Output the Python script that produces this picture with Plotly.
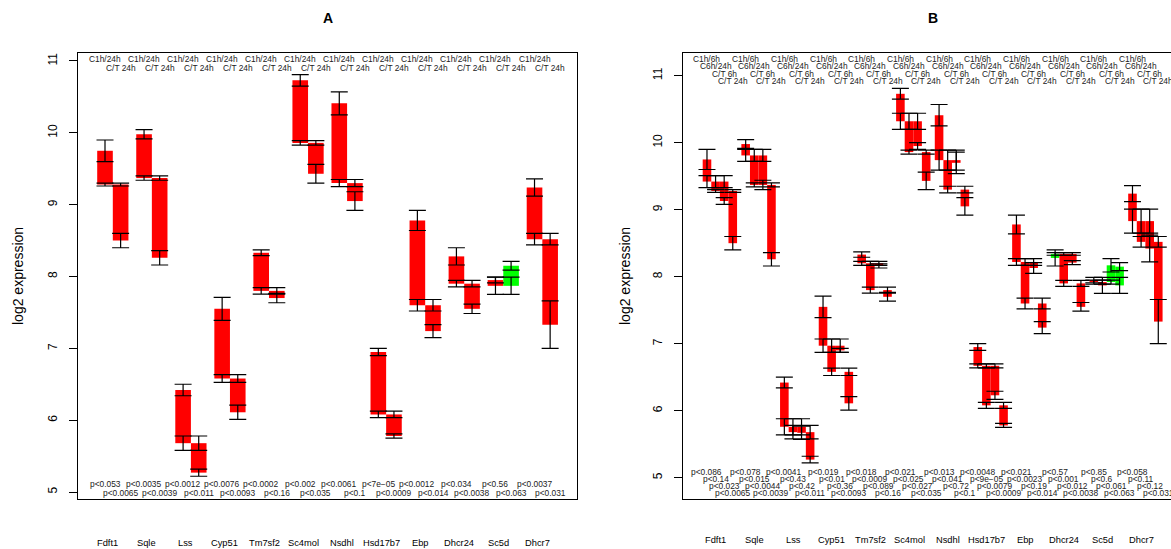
import plotly.graph_objects as go

# ---------------- data ----------------
genes = ["Fdft1", "Sqle", "Lss", "Cyp51", "Tm7sf2", "Sc4mol", "Nsdhl",
         "Hsd17b7", "Ebp", "Dhcr24", "Sc5d", "Dhcr7"]

# mean log2 expression and standard errors per condition
c1h     = [9.75, 9.98, 6.42, 7.55, 8.33, 10.73, 10.41, 6.95, 8.78, 8.28, 7.95, 9.24]
c1h_se  = [0.15, 0.065, 0.08, 0.16, 0.04, 0.08, 0.16, 0.05, 0.14, 0.12, 0.04, 0.12]
c6h     = [9.42, 9.81, 5.76, 6.97, 8.20, 10.32, 9.74, 6.67, 8.22, 8.34, 7.92, 8.83]
c6h_se  = [0.09, 0.09, 0.12, 0.10, 0.03, 0.12, 0.15, 0.03, 0.05, 0.02, 0.03, 0.18]
c24h    = [9.28, 9.37, 5.68, 6.58, 7.80, 9.86, 9.30, 6.08, 7.60, 7.90, 7.87, 8.52]
c24h_se = [0.02, 0.03, 0.10, 0.055, 0.045, 0.03, 0.05, 0.045, 0.08, 0.045, 0.12, 0.08]
t6h     = [9.13, 9.37, 5.67, 6.90, 8.16, 9.95, 9.70, 6.23, 8.13, 8.21, 8.17, 8.42]
t6h_se  = [0.05, 0.07, 0.10, 0.03, 0.03, 0.05, 0.16, 0.06, 0.08, 0.03, 0.10, 0.20]
t24h    = [8.50, 8.26, 5.27, 6.11, 7.70, 9.43, 9.05, 5.78, 7.24, 7.55, 8.15, 7.33]
t24h_se = [0.10, 0.10, 0.05, 0.10, 0.065, 0.13, 0.13, 0.03, 0.09, 0.065, 0.06, 0.33]

# p-values panel A
pA_c1h_24h = ["p<0.053", "p<0.0035", "p<0.0012", "p<0.0076", "p<0.0002", "p<0.002",
              "p<0.0061", "p<7e\u221205", "p<0.0012", "p<0.034", "p<0.56", "p<0.0037"]
pA_ct_24h = ["p<0.0065", "p<0.0039", "p<0.011", "p<0.0093", "p<0.16", "p<0.035",
             "p<0.1", "p<0.0009", "p<0.014", "p<0.0038", "p<0.063", "p<0.031"]
# p-values panel B
pB_c1h_6h = ["p<0.086", "p<0.078", "p<0.0041", "p<0.019", "p<0.018", "p<0.021",
             "p<0.013", "p<0.0048", "p<0.021", "p<0.57", "p<0.85", "p<0.058"]
pB_c6h_24h = ["p<0.14", "p<0.015", "p<0.43", "p<0.01", "p<0.0009", "p<0.025",
              "p<0.041", "p<9e\u221205", "p<0.0023", "p<0.001", "p<0.6", "p<0.11"]
pB_ct_6h = ["p<0.023", "p<0.0044", "p<0.42", "p<0.36", "p<0.089", "p<0.027",
            "p<0.72", "p<0.0079", "p<0.19", "p<0.012", "p<0.061", "p<0.12"]
pB_ct_24h = pA_ct_24h

labelsA = ["C1h/24h", "C/T 24h"]
labelsB = ["C1h/6h", "C6h/24h", "C/T 6h", "C/T 24h"]

# ---------------- geometry helpers ----------------
W, H = 1171, 549
FONT = "Liberation Sans, Arial, Helvetica, sans-serif"
RED, GREEN = "#FF0000", "#00FF00"


def py(p):
    return 1 - p / H


def px(p):
    return p / W


fig = go.Figure()


def add_panel(pairs, group, xa, ya):
    """pairs: list over bars-in-group of (start, start_se, end, end_se) lists."""
    bx, bbase, bh, bcol = [], [], [], []
    ex, ey, ee = [], [], []
    for i in range(len(genes)):
        for j, (s, sse, e, ese) in enumerate(pairs):
            xc = group * i + j + 0.5
            bx.append(xc)
            bbase.append(s[i])
            bh.append(e[i] - s[i])
            bcol.append(GREEN if e[i] > s[i] else RED)
            ex += [xc, xc]
            ey += [s[i], e[i]]
            ee += [sse[i], ese[i]]
    fig.add_trace(go.Bar(x=bx, y=bh, base=bbase, width=1.0,
                         marker=dict(color=bcol, line=dict(width=0)),
                         xaxis=xa, yaxis=ya, showlegend=False, hoverinfo="skip"))
    fig.add_trace(go.Scatter(x=ex, y=ey, mode="markers",
                             marker=dict(size=1, color="rgba(0,0,0,0)"),
                             error_y=dict(type="data", array=ee, visible=True,
                                          color="black", thickness=1.2, width=8.5),
                             xaxis=xa, yaxis=ya, showlegend=False, hoverinfo="skip"))


pairsA = [(c1h, c1h_se, c24h, c24h_se), (c24h, c24h_se, t24h, t24h_se)]
pairsB = [(c1h, c1h_se, c6h, c6h_se), (c6h, c6h_se, c24h, c24h_se),
          (c6h, c6h_se, t6h, t6h_se), (c24h, c24h_se, t24h, t24h_se)]
add_panel(pairsA, 2.5, "x", "y")
add_panel(pairsB, 4.5, "x2", "y2")

ann = []
small = dict(family=FONT, size=8.4, color="#222222")


def text(x, xref, ypix, s, font, **kw):
    d = dict(x=x, xref=xref, y=py(ypix), yref="paper", text=s, showarrow=False,
             font=font, xanchor="center", yanchor="middle")
    d.update(kw)
    ann.append(d)


# panel A texts
topA = [59, 68]
botA = [484, 493]
pA = [pA_c1h_24h, pA_ct_24h]
for i in range(len(genes)):
    for j in range(2):
        xc = 2.5 * i + j + 0.5
        text(xc, "x", topA[j], labelsA[j], small)
        text(xc, "x", botA[j], pA[j][i], small)
    text(2.5 * i + 1 - 0.32, "x", 543, genes[i], dict(family=FONT, size=9.3, color="black"))
# panel B texts
topB = [59, 66.5, 74, 81]
botB = [472, 479, 486, 493]
pB = [pB_c1h_6h, pB_c6h_24h, pB_ct_6h, pB_ct_24h]
for i in range(len(genes)):
    for j in range(4):
        xc = 4.5 * i + j + 0.5
        text(xc, "x2", topB[j], labelsB[j], small)
        text(xc, "x2", botB[j], pB[j][i], small)
    text(4.5 * i + 2 - 0.47, "x2", 540, genes[i], dict(family=FONT, size=9.3, color="black"))

# titles and axis titles
big = dict(family=FONT, size=14, color="black")
text(px(328), "paper", 18, "<b>A</b>", big)
text(px(933), "paper", 18, "<b>B</b>", big)
text(px(18), "paper", 276, "log2 expression", big, textangle=-90)
text(px(625), "paper", 276, "log2 expression", big, textangle=-90)

ydom = [py(499), py(53)]
common_x = dict(showticklabels=False, ticks="", showgrid=False, zeroline=False,
                showline=True, linecolor="black", linewidth=1, mirror=True)
common_y = dict(tickvals=[5, 6, 7, 8, 9, 10, 11], ticks="outside", ticklen=8,
                tickcolor="black", tickwidth=1, tickangle=-90, showgrid=False,
                zeroline=False, showline=True, linecolor="black", linewidth=1,
                ticklabelstandoff=7,
                tickfont=dict(family=FONT, size=12, color="black"), domain=ydom)

fig.update_layout(
    width=W, height=H, autosize=False,
    margin=dict(l=0, r=0, t=0, b=0),
    paper_bgcolor="white", plot_bgcolor="white",
    barmode="overlay", showlegend=False,
    xaxis=dict(domain=[px(78), px(577)], range=[-1.229, 30.72], anchor="y", **common_x),
    yaxis=dict(range=[4.903, 11.111], anchor="x", mirror=True, **common_y),
    xaxis2=dict(domain=[px(683), 1.0], range=[-2.29, 54.48], anchor="y2", **common_x),
    yaxis2=dict(range=[4.682, 11.339], anchor="x2", mirror=False, **common_y),
    annotations=ann,
)

fig.write_html("out.html", config={"displayModeBar": False},
               post_script="document.body.style.margin='0';document.body.style.overflow='hidden';")
